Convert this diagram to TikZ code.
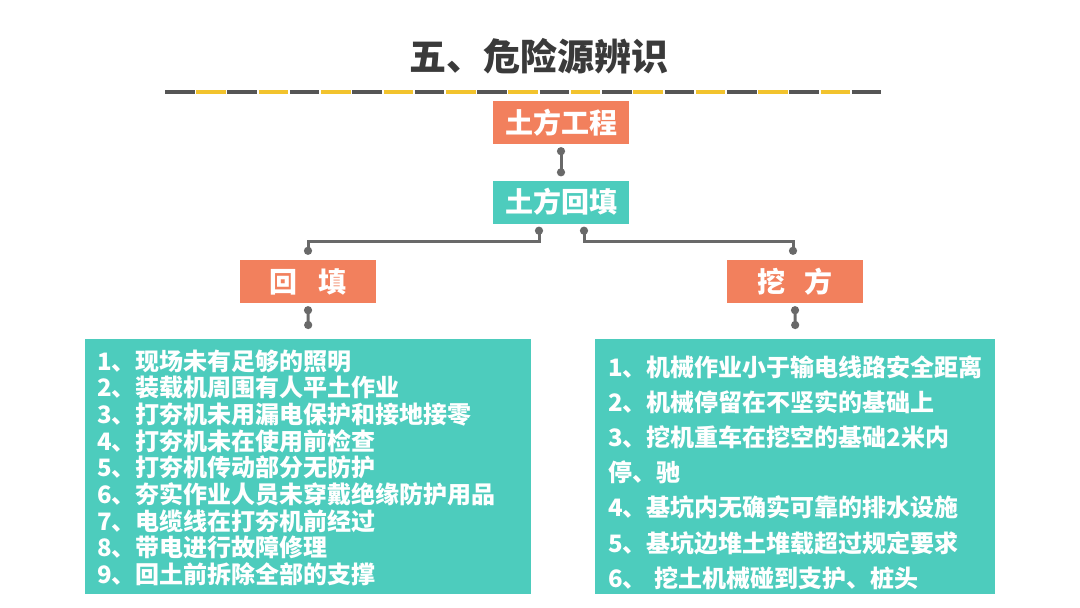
\documentclass[tikz,border=0pt]{standalone}
\usepackage{fontspec}
\setmainfont{Noto Sans CJK SC}
\usetikzlibrary{arrows.meta,calc}
\definecolor{orng}{RGB}{242,128,93}
\definecolor{tealbox}{RGB}{77,204,189}
\definecolor{titlegray}{RGB}{58,58,58}
\definecolor{conngray}{RGB}{105,105,105}
\definecolor{dashdark}{RGB}{85,85,85}
\definecolor{dashyel}{RGB}{242,195,45}
\tikzset{
  tag/.style={fill=#1, text=white, minimum width=136pt, minimum height=43pt, inner sep=0pt,
    font=\bfseries\fontsize{28pt}{30pt}\selectfont},
  listbox/.style={fill=tealbox, inner sep=0pt, anchor=north west},
  listtext/.style={text=white, anchor=base west, align=left, inner sep=0pt, text width=#1},
  conn/.style={draw=conngray, line width=3pt, {Circle[length=8pt,width=8pt]}-{Circle[length=8pt,width=8pt]}},
}
\begin{document}
\begin{tikzpicture}[x=1pt,y=-1pt]
\fill[white] (0,0) rectangle (1080,608);
\useasboundingbox (0,0) rectangle (1080,608);
% title
\node[font=\bfseries\fontsize{37pt}{40pt}\selectfont, text=titlegray, inner sep=0pt] (title) at (539,56) {五、危险源辨识};
% dashed rule
\foreach \i in {0,...,22}{
  \pgfmathsetmacro\xa{165+\i*31.22}
  \ifodd\i\def\dcol{dashyel}\else\def\dcol{dashdark}\fi
  \draw[\dcol, line width=4pt] (\xa,92) -- (\xa+29.6,92);
}
% tag boxes
\node[tag=orng] (gc) at (561,122.5) {土方工程};
\node[tag=tealbox] (ht) at (561,202) {土方回填};
\node[tag=orng] (hl) at (308,281.5) {回\hspace{0.75em}填};
\node[tag=orng] (wf) at (795,281.5) {挖\hspace{0.7em}方};
% list boxes
\node[listbox, minimum width=446pt, minimum height=255pt] (lbox) at (85,339) {};
\node[listtext=430pt, font=\bfseries\fontsize{24pt}{26.7pt}\selectfont] (ltext) at (97,370) {%
1、现场未有足够的照明\\
2、装载机周围有人平土作业\\
3、打夯机未用漏电保护和接地接零\\
4、打夯机未在使用前检查\\
5、打夯机传动部分无防护\\
6、夯实作业人员未穿戴绝缘防护用品\\
7、电缆线在打夯机前经过\\
8、带电进行故障修理\\
9、回土前拆除全部的支撑};
\node[listbox, minimum width=400pt, minimum height=255pt] (rbox) at (595,339) {};
\node[listtext=385pt, font=\bfseries\fontsize{24pt}{35.2pt}\selectfont] (rtext) at (608,376) {%
1、机械作业小于输电线路安全距离\\
2、机械停留在不坚实的基础上\\
3、挖机重车在挖空的基础2米内\\
停、驰\\
4、基坑内无确实可靠的排水设施\\
5、基坑边堆土堆载超过规定要求\\
6、 挖土机械碰到支护、桩头};
% connectors
\draw[conn] ($(gc.south)+(0,3)$) -- ($(ht.north)+(0,-4)$);
\draw[conn] ($(ht.south)+(-22,3)$) -- ++(0,15) -| ($(hl.north)+(0,-5)$);
\draw[conn] ($(ht.south)+(23,3)$) -- ++(0,15) -| ($(wf.north)+(-2,-5)$);
\draw[conn] ($(hl.south)+(0,3)$) -- ($(lbox.north)+(0,-10)$);
\draw[conn] ($(wf.south)+(0,3)$) -- ($(rbox.north)+(0,-10)$);
\end{tikzpicture}
\end{document}
